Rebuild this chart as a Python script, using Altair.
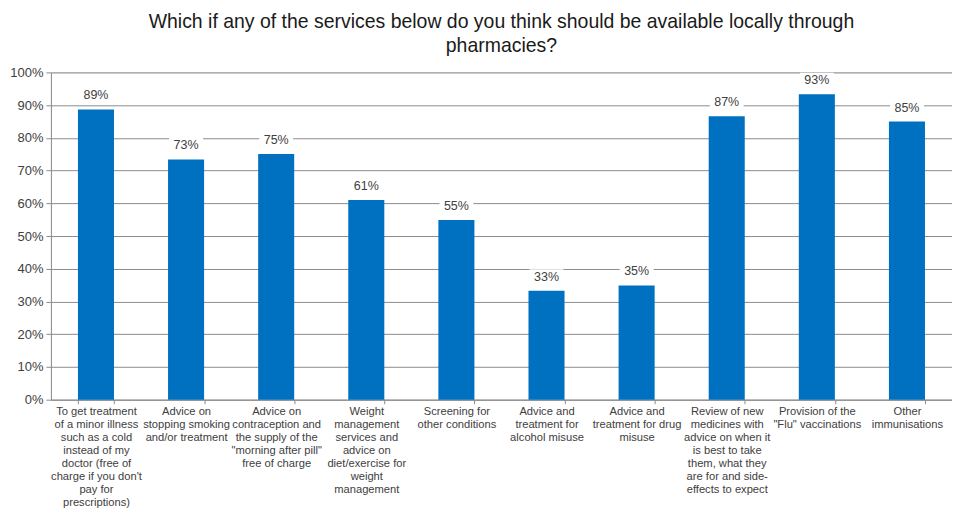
import altair as alt
import pandas as pd

categories = [
    "To get treatment|of a minor illness|such as a cold|instead of my|doctor (free of|charge if you don't|pay for|prescriptions)",
    "Advice on|stopping smoking|and/or treatment",
    "Advice on|contraception and|the supply of the|\"morning after pill\"|free of charge",
    "Weight|management|services and|advice on|diet/exercise for|weight|management",
    "Screening for|other conditions",
    "Advice and|treatment for|alcohol misuse",
    "Advice and|treatment for drug|misuse",
    "Review of new|medicines with|advice on when it|is best to take|them, what they|are for and side-|effects to expect",
    "Provision of the|\"Flu\" vaccinations",
    "Other|immunisations",
]
values = [0.887, 0.734, 0.751, 0.610, 0.549, 0.333, 0.349, 0.866, 0.933, 0.850]

df = pd.DataFrame({"cat": categories, "val": values})
df["lbl"] = [f"{round(v * 100):.0f}%" for v in values]

FONT = "Liberation Sans"

x = alt.X(
    "cat:N",
    sort=None,
    title=None,
    scale=alt.Scale(paddingInner=0.6, paddingOuter=0.3),
    axis=alt.Axis(
        labelAngle=0,
        labelExpr="split(datum.label, '|')",
        labelLimit=200,
        labelFont=FONT,
        labelFontSize=11.2,
        labelColor="#404040",
        labelLineHeight=13,
        labelPadding=2,
        labelBaseline="top",
        tickBand="extent",
        tickColor="#8c8c8c",
        tickSize=4,
        domainColor="#8c8c8c",
        grid=False,
    ),
)

y = alt.Y(
    "val:Q",
    title=None,
    scale=alt.Scale(domain=[0, 1]),
    axis=alt.Axis(
        format=".0%",
        values=[i / 10 for i in range(11)],
        labelFont=FONT,
        labelFontSize=13,
        labelColor="#404040",
        labelPadding=3,
        tickColor="#8c8c8c",
        tickSize=5,
        domainColor="#8c8c8c",
        gridColor="#8c8c8c",
        gridWidth=1,
    ),
)

base = alt.Chart(df).encode(x=x, y=y)

bars = base.mark_bar(color="#0070C0")

label_bg = base.mark_rect(color="white", width=34, height=15, yOffset=-14)

labels = base.mark_text(
    dy=-14, font=FONT, fontSize=12.5, color="#404040", baseline="middle"
).encode(text="lbl:N")

chart = (
    alt.layer(bars, label_bg, labels)
    .properties(
        width=903,
        height=328,
        title=alt.TitleParams(
            text=[
                "Which if any of the services below do you think should be available locally through",
                "pharmacies?",
            ],
            font=FONT,
            fontSize=19.5,
            fontWeight="normal",
            color="#1a1a1a",
            lineHeight=24,
            anchor="middle",
            offset=10,
        ),
        padding={"left": 1, "top": 3, "right": 0, "bottom": 0},
    )
    .configure_view(stroke=None)
    .configure(background="white")
)

chart.save("out.html", embed_options={"renderer": "svg", "actions": False})
